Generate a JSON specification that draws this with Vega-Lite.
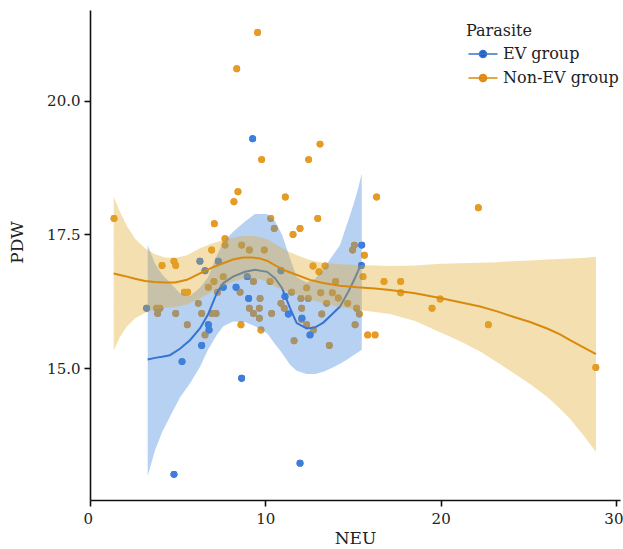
{
  "$schema": "https://vega.github.io/schema/vega-lite/v6.json",
  "width": 530,
  "height": 490,
  "autosize": {"type": "none"},
  "padding": {"left": 90, "top": 10, "right": 3, "bottom": 49},
  "background": "white",
  "config": {
    "view": {"stroke": null},
    "axis": {
      "grid": false,
      "domainColor": "#111111",
      "domainWidth": 1.6,
      "tickColor": "#111111",
      "tickWidth": 1.6,
      "tickSize": 6,
      "labelFont": "DejaVu Serif",
      "labelFontSize": 15,
      "labelColor": "#222222",
      "titleFont": "DejaVu Serif",
      "titleFontSize": 16,
      "titleFontWeight": "normal",
      "titleColor": "#222222"
    },
    "legend": {
      "labelFont": "DejaVu Serif",
      "labelFontSize": 16,
      "labelColor": "#222222",
      "titleFont": "DejaVu Serif",
      "titleFontSize": 16,
      "titleFontWeight": "normal",
      "titleColor": "#222222"
    }
  },
  "datasets": {
    "pts": [
      {"Parasite": "Non-EV group", "NEU": 1.37, "PDW": 17.80},
      {"Parasite": "Non-EV group", "NEU": 8.37, "PDW": 20.60},
      {"Parasite": "Non-EV group", "NEU": 9.56, "PDW": 21.28},
      {"Parasite": "Non-EV group", "NEU": 13.12, "PDW": 19.19},
      {"Parasite": "Non-EV group", "NEU": 9.79, "PDW": 18.90},
      {"Parasite": "Non-EV group", "NEU": 12.47, "PDW": 18.90},
      {"Parasite": "Non-EV group", "NEU": 8.44, "PDW": 18.30},
      {"Parasite": "Non-EV group", "NEU": 8.21, "PDW": 18.11},
      {"Parasite": "Non-EV group", "NEU": 11.14, "PDW": 18.20},
      {"Parasite": "Non-EV group", "NEU": 16.35, "PDW": 18.20},
      {"Parasite": "Non-EV group", "NEU": 7.09, "PDW": 17.70},
      {"Parasite": "Non-EV group", "NEU": 10.31, "PDW": 17.80},
      {"Parasite": "Non-EV group", "NEU": 10.51, "PDW": 17.61},
      {"Parasite": "Non-EV group", "NEU": 12.99, "PDW": 17.80},
      {"Parasite": "Non-EV group", "NEU": 11.58, "PDW": 17.50},
      {"Parasite": "Non-EV group", "NEU": 11.98, "PDW": 17.61},
      {"Parasite": "Non-EV group", "NEU": 7.70, "PDW": 17.42},
      {"Parasite": "Non-EV group", "NEU": 15.08, "PDW": 17.30},
      {"Parasite": "Non-EV group", "NEU": 14.98, "PDW": 17.21},
      {"Parasite": "Non-EV group", "NEU": 22.15, "PDW": 18.00},
      {"Parasite": "Non-EV group", "NEU": 12.72, "PDW": 16.91},
      {"Parasite": "Non-EV group", "NEU": 13.41, "PDW": 16.91},
      {"Parasite": "Non-EV group", "NEU": 13.06, "PDW": 16.80},
      {"Parasite": "Non-EV group", "NEU": 15.65, "PDW": 17.11},
      {"Parasite": "Non-EV group", "NEU": 15.57, "PDW": 16.71},
      {"Parasite": "Non-EV group", "NEU": 16.77, "PDW": 16.62},
      {"Parasite": "Non-EV group", "NEU": 17.72, "PDW": 16.62},
      {"Parasite": "Non-EV group", "NEU": 17.72, "PDW": 16.41},
      {"Parasite": "Non-EV group", "NEU": 19.97, "PDW": 16.29},
      {"Parasite": "Non-EV group", "NEU": 19.51, "PDW": 16.12},
      {"Parasite": "Non-EV group", "NEU": 22.72, "PDW": 15.81},
      {"Parasite": "Non-EV group", "NEU": 28.85, "PDW": 15.01},
      {"Parasite": "Non-EV group", "NEU": 15.84, "PDW": 15.62},
      {"Parasite": "Non-EV group", "NEU": 16.26, "PDW": 15.62},
      {"Parasite": "Non-EV group", "NEU": 7.70, "PDW": 17.30},
      {"Parasite": "Non-EV group", "NEU": 8.65, "PDW": 17.30},
      {"Parasite": "Non-EV group", "NEU": 9.09, "PDW": 17.21},
      {"Parasite": "Non-EV group", "NEU": 9.94, "PDW": 17.21},
      {"Parasite": "Non-EV group", "NEU": 6.94, "PDW": 17.21},
      {"Parasite": "Non-EV group", "NEU": 4.79, "PDW": 17.00},
      {"Parasite": "Non-EV group", "NEU": 4.11, "PDW": 16.92},
      {"Parasite": "Non-EV group", "NEU": 4.89, "PDW": 16.92},
      {"Parasite": "Non-EV group", "NEU": 7.60, "PDW": 16.71},
      {"Parasite": "Non-EV group", "NEU": 7.07, "PDW": 16.62},
      {"Parasite": "Non-EV group", "NEU": 9.32, "PDW": 16.62},
      {"Parasite": "Non-EV group", "NEU": 10.27, "PDW": 16.62},
      {"Parasite": "Non-EV group", "NEU": 14.01, "PDW": 16.62},
      {"Parasite": "Non-EV group", "NEU": 5.38, "PDW": 16.42},
      {"Parasite": "Non-EV group", "NEU": 5.57, "PDW": 16.42},
      {"Parasite": "Non-EV group", "NEU": 6.75, "PDW": 16.51},
      {"Parasite": "Non-EV group", "NEU": 7.28, "PDW": 16.42},
      {"Parasite": "Non-EV group", "NEU": 8.56, "PDW": 16.42},
      {"Parasite": "Non-EV group", "NEU": 11.50, "PDW": 16.42},
      {"Parasite": "Non-EV group", "NEU": 12.36, "PDW": 16.50},
      {"Parasite": "Non-EV group", "NEU": 13.16, "PDW": 16.41},
      {"Parasite": "Non-EV group", "NEU": 13.82, "PDW": 16.41},
      {"Parasite": "Non-EV group", "NEU": 14.16, "PDW": 16.31},
      {"Parasite": "Non-EV group", "NEU": 14.70, "PDW": 16.21},
      {"Parasite": "Non-EV group", "NEU": 13.50, "PDW": 16.21},
      {"Parasite": "Non-EV group", "NEU": 3.80, "PDW": 16.12},
      {"Parasite": "Non-EV group", "NEU": 3.99, "PDW": 16.12},
      {"Parasite": "Non-EV group", "NEU": 3.86, "PDW": 16.02},
      {"Parasite": "Non-EV group", "NEU": 4.89, "PDW": 16.02},
      {"Parasite": "Non-EV group", "NEU": 6.18, "PDW": 16.21},
      {"Parasite": "Non-EV group", "NEU": 6.37, "PDW": 16.02},
      {"Parasite": "Non-EV group", "NEU": 6.94, "PDW": 16.02},
      {"Parasite": "Non-EV group", "NEU": 7.19, "PDW": 16.02},
      {"Parasite": "Non-EV group", "NEU": 9.09, "PDW": 16.12},
      {"Parasite": "Non-EV group", "NEU": 9.70, "PDW": 16.30},
      {"Parasite": "Non-EV group", "NEU": 9.66, "PDW": 16.12},
      {"Parasite": "Non-EV group", "NEU": 9.32, "PDW": 16.02},
      {"Parasite": "Non-EV group", "NEU": 10.36, "PDW": 16.02},
      {"Parasite": "Non-EV group", "NEU": 10.89, "PDW": 16.21},
      {"Parasite": "Non-EV group", "NEU": 11.08, "PDW": 16.12},
      {"Parasite": "Non-EV group", "NEU": 12.03, "PDW": 16.30},
      {"Parasite": "Non-EV group", "NEU": 12.45, "PDW": 16.30},
      {"Parasite": "Non-EV group", "NEU": 12.07, "PDW": 16.12},
      {"Parasite": "Non-EV group", "NEU": 13.22, "PDW": 16.01},
      {"Parasite": "Non-EV group", "NEU": 15.21, "PDW": 16.12},
      {"Parasite": "Non-EV group", "NEU": 15.36, "PDW": 16.01},
      {"Parasite": "Non-EV group", "NEU": 12.07, "PDW": 15.91},
      {"Parasite": "Non-EV group", "NEU": 6.56, "PDW": 15.62},
      {"Parasite": "Non-EV group", "NEU": 5.55, "PDW": 15.81},
      {"Parasite": "Non-EV group", "NEU": 8.61, "PDW": 15.81},
      {"Parasite": "Non-EV group", "NEU": 9.66, "PDW": 15.93},
      {"Parasite": "Non-EV group", "NEU": 9.75, "PDW": 15.71},
      {"Parasite": "Non-EV group", "NEU": 12.36, "PDW": 15.81},
      {"Parasite": "Non-EV group", "NEU": 12.74, "PDW": 15.71},
      {"Parasite": "Non-EV group", "NEU": 15.12, "PDW": 15.81},
      {"Parasite": "Non-EV group", "NEU": 11.64, "PDW": 15.51},
      {"Parasite": "Non-EV group", "NEU": 13.65, "PDW": 15.42},
      {"Parasite": "EV group", "NEU": 9.28, "PDW": 19.29},
      {"Parasite": "EV group", "NEU": 15.50, "PDW": 17.30},
      {"Parasite": "EV group", "NEU": 15.48, "PDW": 16.92},
      {"Parasite": "EV group", "NEU": 5.25, "PDW": 15.12},
      {"Parasite": "EV group", "NEU": 8.65, "PDW": 14.81},
      {"Parasite": "EV group", "NEU": 4.79, "PDW": 13.01},
      {"Parasite": "EV group", "NEU": 11.98, "PDW": 13.22},
      {"Parasite": "EV group", "NEU": 12.55, "PDW": 15.62},
      {"Parasite": "EV group", "NEU": 11.31, "PDW": 16.01},
      {"Parasite": "EV group", "NEU": 11.12, "PDW": 16.34},
      {"Parasite": "EV group", "NEU": 6.27, "PDW": 17.00},
      {"Parasite": "EV group", "NEU": 7.32, "PDW": 17.00},
      {"Parasite": "EV group", "NEU": 6.56, "PDW": 16.82},
      {"Parasite": "EV group", "NEU": 8.97, "PDW": 16.71},
      {"Parasite": "EV group", "NEU": 10.89, "PDW": 16.82},
      {"Parasite": "EV group", "NEU": 7.60, "PDW": 16.51},
      {"Parasite": "EV group", "NEU": 8.33, "PDW": 16.51},
      {"Parasite": "EV group", "NEU": 3.23, "PDW": 16.12},
      {"Parasite": "EV group", "NEU": 9.05, "PDW": 16.30},
      {"Parasite": "EV group", "NEU": 6.75, "PDW": 15.81},
      {"Parasite": "EV group", "NEU": 6.79, "PDW": 15.71},
      {"Parasite": "EV group", "NEU": 12.09, "PDW": 15.93},
      {"Parasite": "EV group", "NEU": 6.37, "PDW": 15.42}
    ],
    "smooth": [
      {"Parasite": "EV group", "NEU": 3.29, "fit": 15.16, "lo": 12.98, "hi": 17.30},
      {"Parasite": "EV group", "NEU": 3.71, "fit": 15.19, "lo": 13.46, "hi": 16.95},
      {"Parasite": "EV group", "NEU": 4.11, "fit": 15.21, "lo": 13.80, "hi": 16.75},
      {"Parasite": "EV group", "NEU": 4.56, "fit": 15.24, "lo": 14.09, "hi": 16.60},
      {"Parasite": "EV group", "NEU": 5.13, "fit": 15.36, "lo": 14.45, "hi": 16.40},
      {"Parasite": "EV group", "NEU": 5.70, "fit": 15.52, "lo": 14.71, "hi": 16.35},
      {"Parasite": "EV group", "NEU": 6.27, "fit": 15.74, "lo": 15.02, "hi": 16.50},
      {"Parasite": "EV group", "NEU": 6.73, "fit": 16.00, "lo": 15.34, "hi": 16.70},
      {"Parasite": "EV group", "NEU": 7.23, "fit": 16.40, "lo": 15.62, "hi": 17.10},
      {"Parasite": "EV group", "NEU": 7.60, "fit": 16.59, "lo": 15.78, "hi": 17.35},
      {"Parasite": "EV group", "NEU": 8.16, "fit": 16.71, "lo": 15.87, "hi": 17.55},
      {"Parasite": "EV group", "NEU": 8.84, "fit": 16.80, "lo": 15.86, "hi": 17.74},
      {"Parasite": "EV group", "NEU": 9.41, "fit": 16.84, "lo": 15.78, "hi": 17.88},
      {"Parasite": "EV group", "NEU": 10.10, "fit": 16.80, "lo": 15.65, "hi": 17.88},
      {"Parasite": "EV group", "NEU": 10.55, "fit": 16.68, "lo": 15.45, "hi": 17.75},
      {"Parasite": "EV group", "NEU": 10.95, "fit": 16.50, "lo": 15.28, "hi": 17.50},
      {"Parasite": "EV group", "NEU": 11.41, "fit": 16.12, "lo": 15.06, "hi": 17.05},
      {"Parasite": "EV group", "NEU": 11.79, "fit": 15.84, "lo": 14.95, "hi": 16.70},
      {"Parasite": "EV group", "NEU": 12.36, "fit": 15.74, "lo": 14.89, "hi": 16.60},
      {"Parasite": "EV group", "NEU": 12.84, "fit": 15.76, "lo": 14.89, "hi": 16.67},
      {"Parasite": "EV group", "NEU": 13.31, "fit": 15.85, "lo": 14.93, "hi": 16.85},
      {"Parasite": "EV group", "NEU": 13.79, "fit": 16.00, "lo": 15.00, "hi": 17.08},
      {"Parasite": "EV group", "NEU": 14.26, "fit": 16.15, "lo": 15.08, "hi": 17.30},
      {"Parasite": "EV group", "NEU": 14.72, "fit": 16.42, "lo": 15.17, "hi": 17.75},
      {"Parasite": "EV group", "NEU": 15.02, "fit": 16.62, "lo": 15.24, "hi": 18.05},
      {"Parasite": "EV group", "NEU": 15.27, "fit": 16.80, "lo": 15.29, "hi": 18.33},
      {"Parasite": "EV group", "NEU": 15.50, "fit": 16.98, "lo": 15.34, "hi": 18.64},
      {"Parasite": "Non-EV group", "NEU": 1.35, "fit": 16.77, "lo": 15.33, "hi": 18.21},
      {"Parasite": "Non-EV group", "NEU": 1.71, "fit": 16.74, "lo": 15.58, "hi": 17.92},
      {"Parasite": "Non-EV group", "NEU": 2.11, "fit": 16.71, "lo": 15.78, "hi": 17.66},
      {"Parasite": "Non-EV group", "NEU": 2.57, "fit": 16.67, "lo": 15.93, "hi": 17.42},
      {"Parasite": "Non-EV group", "NEU": 3.14, "fit": 16.63, "lo": 16.03, "hi": 17.24},
      {"Parasite": "Non-EV group", "NEU": 3.71, "fit": 16.61, "lo": 16.10, "hi": 17.13},
      {"Parasite": "Non-EV group", "NEU": 4.28, "fit": 16.60, "lo": 16.13, "hi": 17.07},
      {"Parasite": "Non-EV group", "NEU": 4.85, "fit": 16.60, "lo": 16.14, "hi": 17.06},
      {"Parasite": "Non-EV group", "NEU": 5.53, "fit": 16.65, "lo": 16.19, "hi": 17.11},
      {"Parasite": "Non-EV group", "NEU": 6.27, "fit": 16.77, "lo": 16.30, "hi": 17.24},
      {"Parasite": "Non-EV group", "NEU": 6.96, "fit": 16.88, "lo": 16.43, "hi": 17.33},
      {"Parasite": "Non-EV group", "NEU": 7.59, "fit": 16.96, "lo": 16.53, "hi": 17.39},
      {"Parasite": "Non-EV group", "NEU": 8.16, "fit": 17.03, "lo": 16.62, "hi": 17.44},
      {"Parasite": "Non-EV group", "NEU": 8.73, "fit": 17.07, "lo": 16.67, "hi": 17.47},
      {"Parasite": "Non-EV group", "NEU": 9.24, "fit": 17.07, "lo": 16.68, "hi": 17.47},
      {"Parasite": "Non-EV group", "NEU": 9.70, "fit": 17.05, "lo": 16.66, "hi": 17.45},
      {"Parasite": "Non-EV group", "NEU": 10.15, "fit": 17.00, "lo": 16.61, "hi": 17.40},
      {"Parasite": "Non-EV group", "NEU": 10.67, "fit": 16.90, "lo": 16.50, "hi": 17.30},
      {"Parasite": "Non-EV group", "NEU": 11.24, "fit": 16.81, "lo": 16.43, "hi": 17.19},
      {"Parasite": "Non-EV group", "NEU": 11.81, "fit": 16.74, "lo": 16.37, "hi": 17.11},
      {"Parasite": "Non-EV group", "NEU": 12.55, "fit": 16.65, "lo": 16.28, "hi": 17.02},
      {"Parasite": "Non-EV group", "NEU": 13.29, "fit": 16.59, "lo": 16.21, "hi": 16.97},
      {"Parasite": "Non-EV group", "NEU": 14.26, "fit": 16.54, "lo": 16.14, "hi": 16.94},
      {"Parasite": "Non-EV group", "NEU": 15.23, "fit": 16.51, "lo": 16.09, "hi": 16.93},
      {"Parasite": "Non-EV group", "NEU": 16.26, "fit": 16.49, "lo": 16.05, "hi": 16.92},
      {"Parasite": "Non-EV group", "NEU": 17.11, "fit": 16.46, "lo": 16.01, "hi": 16.91},
      {"Parasite": "Non-EV group", "NEU": 18.54, "fit": 16.40, "lo": 15.88, "hi": 16.92},
      {"Parasite": "Non-EV group", "NEU": 19.97, "fit": 16.31, "lo": 15.67, "hi": 16.95},
      {"Parasite": "Non-EV group", "NEU": 21.11, "fit": 16.23, "lo": 15.50, "hi": 16.96},
      {"Parasite": "Non-EV group", "NEU": 22.25, "fit": 16.15, "lo": 15.31, "hi": 16.97},
      {"Parasite": "Non-EV group", "NEU": 23.22, "fit": 16.06, "lo": 15.11, "hi": 16.98},
      {"Parasite": "Non-EV group", "NEU": 24.13, "fit": 15.96, "lo": 14.91, "hi": 17.00},
      {"Parasite": "Non-EV group", "NEU": 25.10, "fit": 15.86, "lo": 14.70, "hi": 17.01},
      {"Parasite": "Non-EV group", "NEU": 26.07, "fit": 15.74, "lo": 14.46, "hi": 17.03},
      {"Parasite": "Non-EV group", "NEU": 26.81, "fit": 15.63, "lo": 14.24, "hi": 17.04},
      {"Parasite": "Non-EV group", "NEU": 27.38, "fit": 15.52, "lo": 14.05, "hi": 17.05},
      {"Parasite": "Non-EV group", "NEU": 28.12, "fit": 15.39, "lo": 13.75, "hi": 17.06},
      {"Parasite": "Non-EV group", "NEU": 28.86, "fit": 15.26, "lo": 13.43, "hi": 17.08}
    ]
  },
  "layer": [
    {
      "data": {"name": "pts"},
      "mark": {"type": "circle", "size": 48, "opacity": 1},
      "encoding": {
        "x": {"field": "NEU", "type": "quantitative", "scale": {"domain": [0, 30.23], "nice": false, "zero": false},
              "axis": {"values": [0, 10, 20, 30], "title": "NEU", "labelPadding": 5, "labelFontSize": 15, "labelFlush": 10, "labelFlushOffset": 7, "titleY": 30, "titleFontSize": 17}},
        "y": {"field": "PDW", "type": "quantitative", "scale": {"domain": [12.53, 21.7], "nice": false, "zero": false},
              "axis": {"values": [15, 17.5, 20], "format": ".1f", "title": "PDW", "labelPadding": 4, "titleX": -64, "titleY": 232, "titleFontSize": 17}},
        "fill": {"field": "Parasite", "type": "nominal",
                  "scale": {"domain": ["EV group", "Non-EV group"], "range": ["#1f5fbf", "#f08a24"]},
                  "legend": {
                     "title": "Parasite",
                     "orient": "none",
                     "legendX": 376,
                     "legendY": 13,
                     "symbolType": "M-2.9,0L2.9,0M-0.7,0A0.7,0.7,0,1,1,0.7,0A0.7,0.7,0,1,1,-0.7,0Z",
                     "symbolSize": 100,
                     "symbolStrokeWidth": 1.6,
                     "labelOffset": 12,
                     "symbolOffset": 9,
                     "rowPadding": 8,
                     "titlePadding": 7
                   }}
      }
    },
    {
      "data": {"name": "pts"},
      "mark": {"type": "circle", "size": 48, "opacity": 1},
      "encoding": {
        "x": {"field": "NEU", "type": "quantitative"},
        "y": {"field": "PDW", "type": "quantitative"},
        "color": {"field": "Parasite", "type": "nominal",
                  "scale": {"domain": ["EV group", "Non-EV group"], "range": ["#3d7edd", "#e49c24"]},
                  "legend": null}
      }
    },
    {
      "data": {"name": "smooth"},
      "transform": [{"filter": "datum.Parasite === 'EV group'"}],
      "mark": {"type": "area", "color": "#4187de", "opacity": 0.38},
      "encoding": {
        "x": {"field": "NEU", "type": "quantitative"},
        "y": {"field": "lo", "type": "quantitative"},
        "y2": {"field": "hi"}
      }
    },
    {
      "data": {"name": "smooth"},
      "transform": [{"filter": "datum.Parasite === 'EV group'"}],
      "mark": {"type": "line", "color": "#3773d0", "strokeWidth": 2},
      "encoding": {
        "x": {"field": "NEU", "type": "quantitative"},
        "y": {"field": "fit", "type": "quantitative"}
      }
    },
    {
      "data": {"name": "smooth"},
      "transform": [{"filter": "datum.Parasite === 'Non-EV group'"}],
      "mark": {"type": "area", "color": "#e1a525", "opacity": 0.36},
      "encoding": {
        "x": {"field": "NEU", "type": "quantitative"},
        "y": {"field": "lo", "type": "quantitative"},
        "y2": {"field": "hi"}
      }
    },
    {
      "data": {"name": "smooth"},
      "mark": {"type": "line", "strokeWidth": 2},
      "encoding": {
        "x": {"field": "NEU", "type": "quantitative"},
        "y": {"field": "fit", "type": "quantitative"},
        "stroke": {"field": "Parasite", "type": "nominal",
                   "scale": {"domain": ["EV group", "Non-EV group"], "range": ["#3773d0", "#d98a0c"]},
                   "legend": {
                     "title": "Parasite",
                     "orient": "none",
                     "legendX": 376,
                     "legendY": 13,
                     "symbolType": "M-2.9,0L2.9,0M-0.7,0A0.7,0.7,0,1,1,0.7,0A0.7,0.7,0,1,1,-0.7,0Z",
                     "symbolSize": 100,
                     "symbolStrokeWidth": 1.6,
                     "labelOffset": 12,
                     "symbolOffset": 9,
                     "rowPadding": 8,
                     "titlePadding": 7
                   }},
        "opacity": {"condition": {"test": "datum.Parasite === 'EV group'", "value": 0}, "value": 1}
      }
    },
    {
      "data": {"name": "smooth"},
      "transform": [{"filter": "datum.Parasite === 'EV group'"}],
      "mark": {"type": "line", "color": "#3773d0", "strokeWidth": 2, "opacity": 0.0},
      "encoding": {
        "x": {"field": "NEU", "type": "quantitative"},
        "y": {"field": "fit", "type": "quantitative"}
      }
    }
  ]
}
